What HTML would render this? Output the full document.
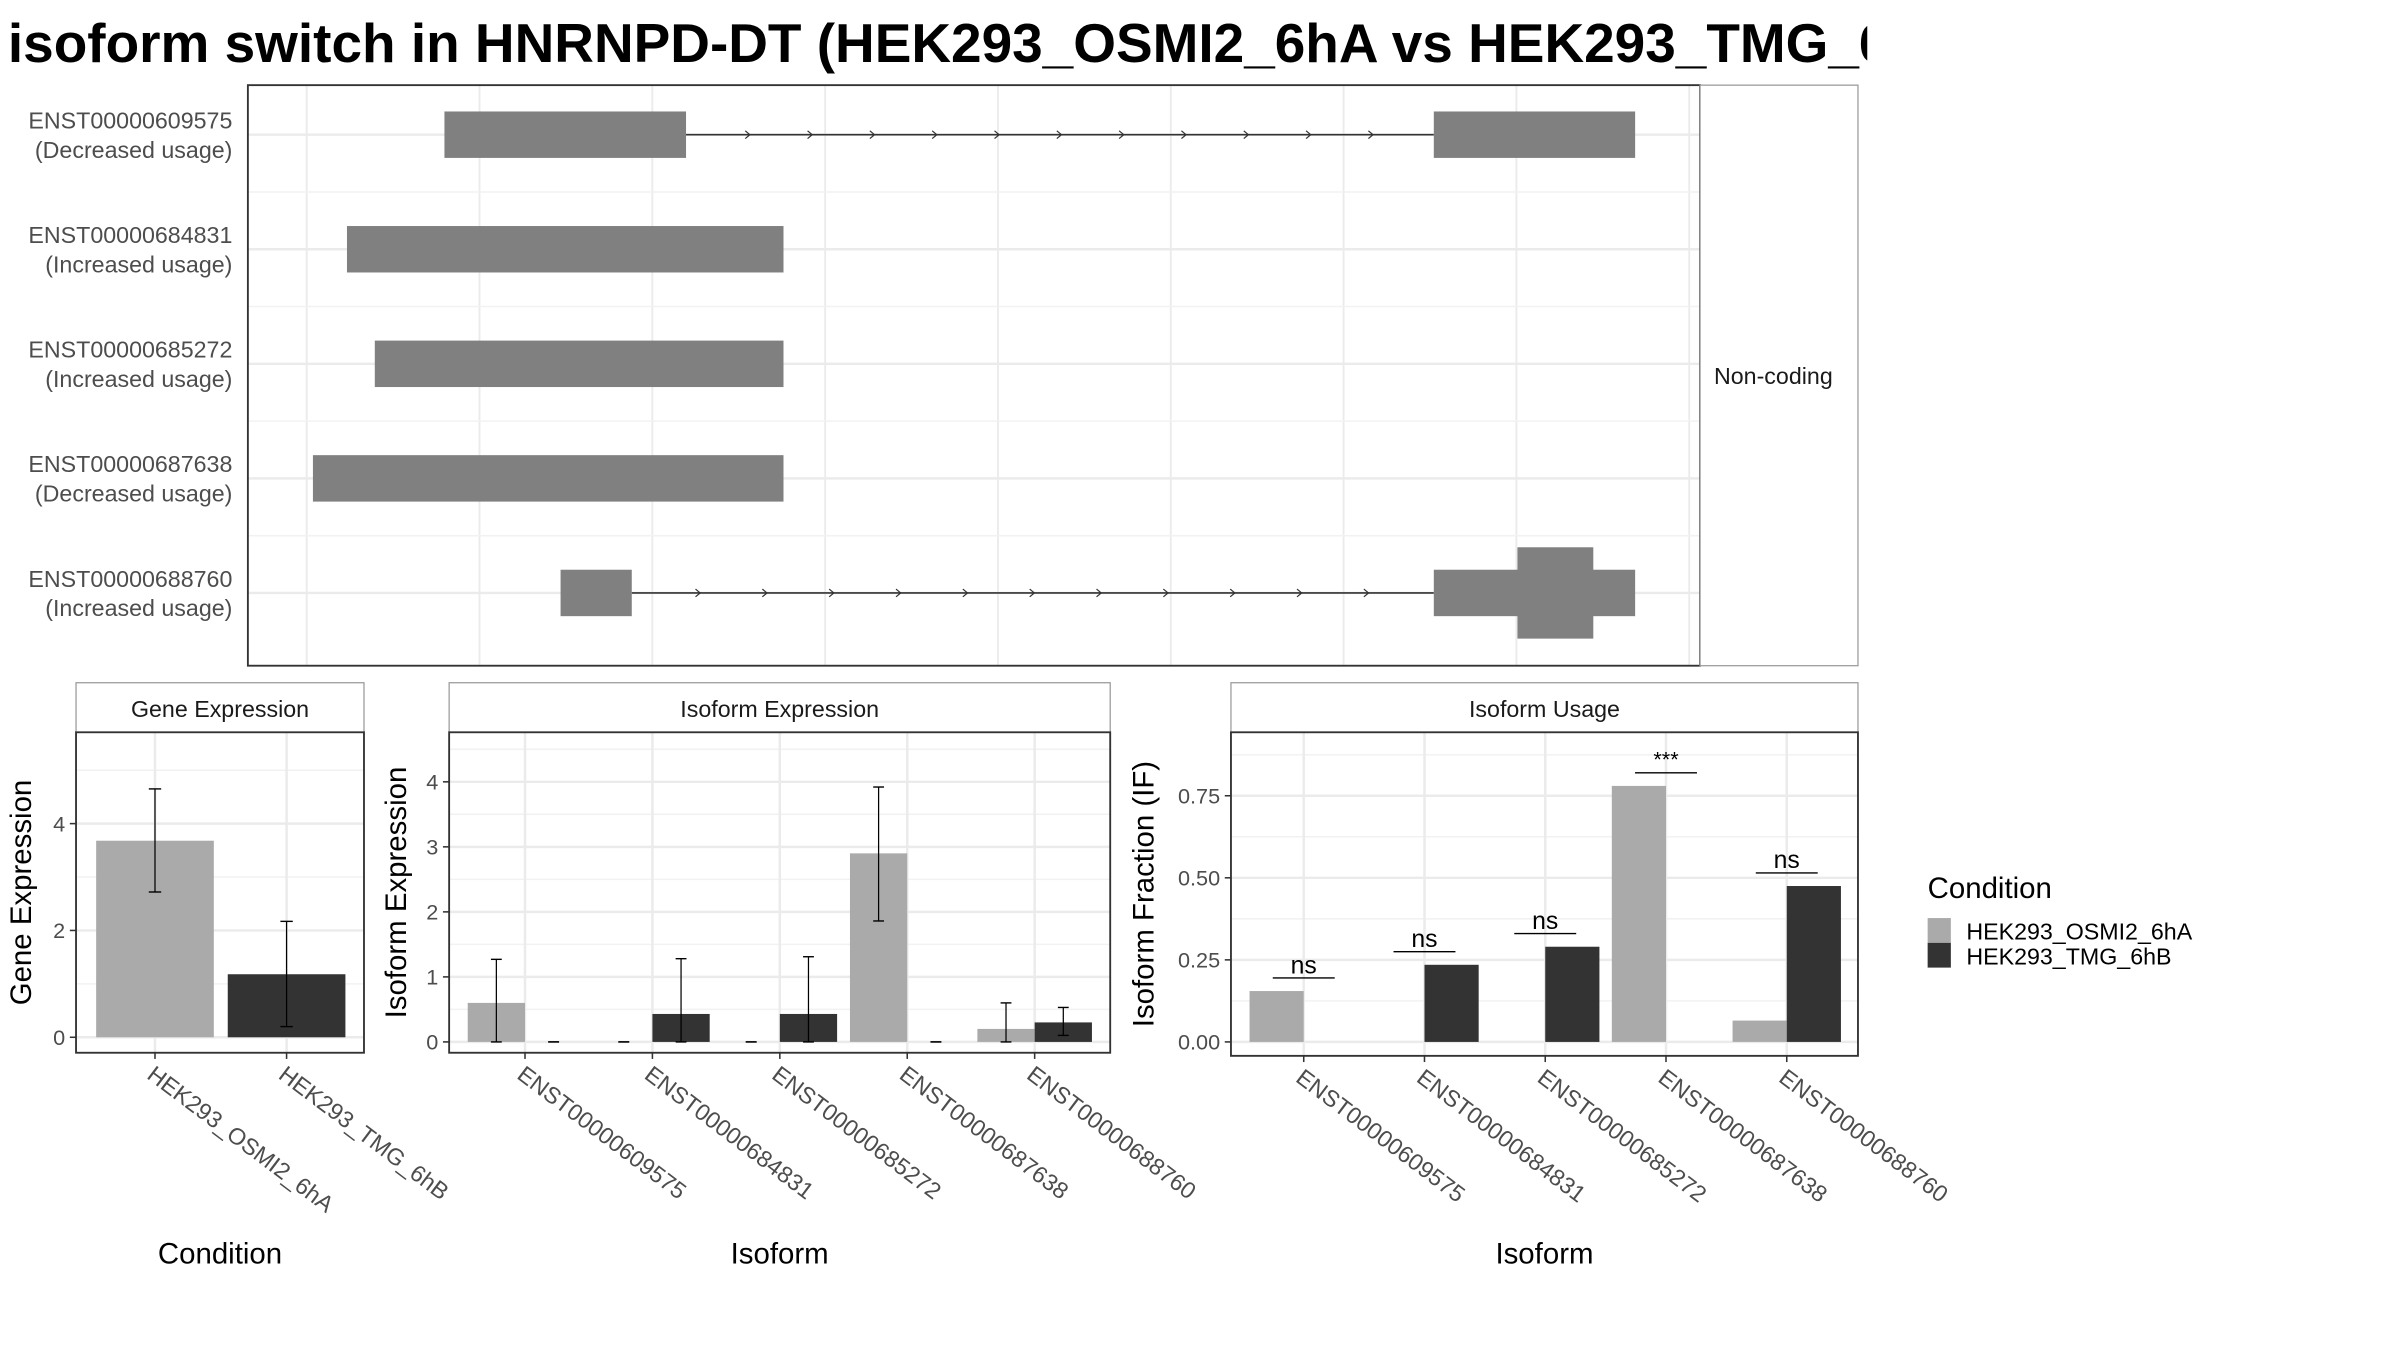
<!DOCTYPE html>
<html><head><meta charset="utf-8"><style>
html,body{margin:0;padding:0;background:#fff;}
svg{display:block;font-family:"Liberation Sans",Arial,sans-serif;}
</style></head><body>
<svg id="chart" width="2400" height="1350" viewBox="0 0 1550 872" xmlns="http://www.w3.org/2000/svg">
<defs><clipPath id="titleclip"><rect x="0" y="0" width="1206" height="60"/></clipPath></defs>
<rect x="0" y="0" width="1550" height="872" fill="#fff"/>
<text x="5" y="40" font-size="35.5" font-weight="bold" fill="#000" clip-path="url(#titleclip)">isoform switch in HNRNPD-DT (HEK293_OSMI2_6hA vs HEK293_TMG_6hB)</text>
<g id="top"></g>
<g id="gene"></g>
<g id="isoexp"></g>
<g id="isouse"></g>
<g id="legend">
  <text x="1245" y="580" font-size="19" fill="#000">Condition</text>
  <rect x="1245" y="593" width="15" height="16" fill="#aaaaaa"/>
  <rect x="1245" y="609" width="15" height="16" fill="#333333"/>
  <text x="1270" y="607" font-size="15">HEK293_OSMI2_6hA</text>
  <text x="1270" y="623" font-size="15">HEK293_TMG_6hB</text>
</g>
</svg>
<script>
// ---------- data ----------
const transcripts = ["ENST00000609575","ENST00000684831","ENST00000685272","ENST00000687638","ENST00000688760"];
const usageLabels = ["(Decreased usage)","(Increased usage)","(Increased usage)","(Decreased usage)","(Increased usage)"];
// exons in genomic units, [start,end,tall]
const exons0 = [[25.97,39.95,0],[83.22,94.87,0]];
const exons1 = [[20.33,45.59,0]];
const exons2 = [[21.94,45.59,0]];
const exons3 = [[18.36,45.59,0]];
const exons4 = [[32.69,36.81,0],[83.22,94.87,0],[88.06,92.45,1]];
const exonSets = [exons0,exons1,exons2,exons3,exons4];
const genomeTicks = [18,28,38,48,58,68,78,88,98];

const conditions = ["HEK293_OSMI2_6hA","HEK293_TMG_6hB"];
const geneValues = [3.68,1.18];
const geneErrLo = [2.72,0.2];
const geneErrHi = [4.65,2.17];
const geneTicks = [0,2,4];

const isoExpOsmi = [0.6,0,0,2.9,0.2];
const isoExpTmg = [0,0.43,0.43,0,0.3];
const isoExpOsmiLo = [0,0,0,1.86,0];
const isoExpOsmiHi = [1.27,0,0,3.92,0.6];
const isoExpTmgLo = [0,0,0,0,0.1];
const isoExpTmgHi = [0,1.28,1.31,0,0.53];
const isoExpTicks = [0,1,2,3,4];

const ifOsmi = [0.155,0,0,0.78,0.065];
const ifTmg = [0,0.235,0.29,0,0.475];
const sigY = [0.195,0.275,0.33,0.82,0.515];
const sigLabels = ["ns","ns","ns","***","ns"];
const ifTicks = [0,0.25,0.5,0.75];
const ifTickLabels = ["0.00","0.25","0.50","0.75"];

const C1="#aaaaaa", C2="#333333";
const NS="http://www.w3.org/2000/svg";
function mk(parent,tag,attrs,name,inter){const e=document.createElementNS(NS,tag);for(const k in attrs)e.setAttribute(k,attrs[k]);


parent.appendChild(e);return e;}

// ---------- top transcript panel ----------
(function(){
const g=document.getElementById('top');
const X0=160,X1=1098,Y0=55,Y1=430;
const gx=v=>198+(v-18)*(1091-198)/80;
const rowY=i=>87+i*74;
mk(g,'rect',{x:X0,y:Y0,width:X1-X0,height:Y1-Y0,fill:'#fff'},'transcript-panel-bg',false);
genomeTicks.forEach(t=>mk(g,'line',{x1:gx(t),x2:gx(t),y1:Y0,y2:Y1,stroke:'#ebebeb','stroke-width':1.2},'genome-gridline',false));
for(let i=0;i<4;i++)mk(g,'line',{x1:X0,x2:X1,y1:rowY(i)+37,y2:rowY(i)+37,stroke:'#f2f2f2','stroke-width':1},'minor-gridline',false);
transcripts.forEach((t,i)=>{
  const y=rowY(i);
  mk(g,'line',{x1:X0,x2:X1,y1:y,y2:y,stroke:'#ebebeb','stroke-width':1.6},'row-gridline',false);
  const ex=exonSets[i];
  if(ex.length>1){
    const a=gx(ex[0][1]),b=gx(ex[1][0]);
    mk(g,'line',{x1:a,x2:b,y1:y,y2:y,stroke:'#333','stroke-width':1},'intron-line',false);
    const n=12;for(let k=1;k<n;k++){const ax=a+(b-a)*k/n;
      mk(g,'path',{d:`M${ax-2},${y-2.5} L${ax+1},${y} L${ax-2},${y+2.5}`,fill:'none',stroke:'#333','stroke-width':0.8},'intron-arrow',false);}
  }
  ex.forEach(e=>{const h=e[2]?59:30;
    mk(g,'rect',{x:gx(e[0]),y:y-h/2,width:gx(e[1])-gx(e[0]),height:h,fill:'#808080'},'exon-'+t,false);});
  const tx=mk(g,'text',{x:150,y:y-4,'font-size':15,fill:'#4d4d4d','text-anchor':'end'},'transcript-label',false);tx.textContent=t;
  const ux=mk(g,'text',{x:150,y:y+15,'font-size':15,fill:'#4d4d4d','text-anchor':'end'},'usage-label',false);ux.textContent=usageLabels[i];
});
mk(g,'rect',{x:X0,y:Y0,width:X1-X0,height:Y1-Y0,fill:'none',stroke:'#333','stroke-width':1.2},'transcript-panel-border',false);
mk(g,'rect',{x:X1,y:Y0,width:1200-X1,height:Y1-Y0,fill:'#fff',stroke:'#999','stroke-width':0.8},'facet-strip-right',false);
const s=mk(g,'text',{x:1107,y:248,'font-size':15,fill:'#1a1a1a'},'facet-label-noncoding',false);s.textContent='Non-coding';
})();

// ---------- generic bar panel ----------
function panel(gid,o){
const g=document.getElementById(gid);
const {X0,X1,Y0,Y1,title}=o;
mk(g,'rect',{x:X0,y:441,width:X1-X0,height:Y0-441,fill:'#fff',stroke:'#999','stroke-width':0.8},'strip-'+gid,false);
const st=mk(g,'text',{x:(X0+X1)/2,y:463,'font-size':15,'text-anchor':'middle',fill:'#1a1a1a'},'strip-title-'+gid,false);st.textContent=title;
o.ticks.forEach((t,i)=>{const y=o.sy(t);
  mk(g,'line',{x1:X0,x2:X1,y1:y,y2:y,stroke:'#ebebeb','stroke-width':1.6},'y-gridline',false);
  const ym=o.sy(t+o.step/2); if(ym>Y0) mk(g,'line',{x1:X0,x2:X1,y1:ym,y2:ym,stroke:'#f2f2f2','stroke-width':1},'y-minor-gridline',false);
  mk(g,'line',{x1:X0-4,x2:X0,y1:y,y2:y,stroke:'#333','stroke-width':1},'y-tick',false);
  const tl=mk(g,'text',{x:X0-7,y:y+5,'font-size':14,fill:'#4d4d4d','text-anchor':'end'},'y-tick-label',false);tl.textContent=o.tickLabels?o.tickLabels[i]:String(t);
});
o.cats.forEach((c,i)=>{const x=o.cx(i);
  mk(g,'line',{x1:x,x2:x,y1:Y0,y2:Y1,stroke:'#ebebeb','stroke-width':1.6},'x-gridline',false);
  mk(g,'line',{x1:x,x2:x,y1:Y1,y2:Y1+4,stroke:'#333','stroke-width':1},'x-tick',false);
  const tl=mk(g,'text',{x:x-6,y:Y1+16,'font-size':15,fill:'#4d4d4d',transform:`rotate(37 ${x-6} ${Y1+16})`},'x-tick-label',false);tl.textContent=c;
});
o.draw(g);
mk(g,'rect',{x:X0,y:Y0,width:X1-X0,height:Y1-Y0,fill:'none',stroke:'#333','stroke-width':1.2},'panel-border-'+gid,false);
const yt=mk(g,'text',{x:o.ytx,y:(Y0+Y1)/2,'font-size':19,'text-anchor':'middle',transform:`rotate(-90 ${o.ytx} ${(Y0+Y1)/2})`},'y-axis-title',false);yt.textContent=o.ytitle;
const xt=mk(g,'text',{x:(X0+X1)/2,y:816,'font-size':19,'text-anchor':'middle'},'x-axis-title',false);xt.textContent=o.xtitle;
}
function errbar(g,x,lo,hi,sy,w){
  mk(g,'line',{x1:x,x2:x,y1:sy(lo),y2:sy(hi),stroke:'#000','stroke-width':0.8},'error-bar',false);
  mk(g,'line',{x1:x-w,x2:x+w,y1:sy(lo),y2:sy(lo),stroke:'#000','stroke-width':0.9},'error-cap',false);
  mk(g,'line',{x1:x-w,x2:x+w,y1:sy(hi),y2:sy(hi),stroke:'#000','stroke-width':0.9},'error-cap',false);
}

panel('gene',{X0:49,X1:235,Y0:473,Y1:680,title:'Gene Expression',ticks:geneTicks,step:2,
 sy:v=>670-v*34.5,cats:conditions,cx:i=>100+i*85,ytx:20,ytitle:'Gene Expression',xtitle:'Condition',
 draw(g){const sy=this.sy;geneValues.forEach((v,i)=>{const x=this.cx(i);
  mk(g,'rect',{x:x-38,y:sy(v),width:76,height:sy(0)-sy(v),fill:i?C2:C1},'bar-'+conditions[i],false);
  errbar(g,x,geneErrLo[i],geneErrHi[i],sy,4);});}});

panel('isoexp',{X0:290,X1:717,Y0:473,Y1:680,title:'Isoform Expression',ticks:isoExpTicks,step:1,
 sy:v=>673-v*42,cats:transcripts,cx:i=>339+i*82.3,ytx:262,ytitle:'Isoform Expression',xtitle:'Isoform',
 draw(g){const sy=this.sy;transcripts.forEach((t,i)=>{const x=this.cx(i);
  const a=isoExpOsmi[i],b=isoExpTmg[i];
  mk(g,'rect',{x:x-37,y:sy(a),width:37,height:sy(0)-sy(a),fill:C1},'bar-osmi2-'+t,false);
  mk(g,'rect',{x:x,y:sy(b),width:37,height:sy(0)-sy(b),fill:C2},'bar-tmg-'+t,false);
  errbar(g,x-18.5,isoExpOsmiLo[i],isoExpOsmiHi[i],sy,3.5);
  errbar(g,x+18.5,isoExpTmgLo[i],isoExpTmgHi[i],sy,3.5);});}});

panel('isouse',{X0:795,X1:1200,Y0:473,Y1:682,title:'Isoform Usage',ticks:ifTicks,tickLabels:ifTickLabels,step:0.25,
 sy:v=>673-v*212,cats:transcripts,cx:i=>842+i*78,ytx:745,ytitle:'Isoform Fraction (IF)',xtitle:'Isoform',
 draw(g){const sy=this.sy;transcripts.forEach((t,i)=>{const x=this.cx(i);
  const a=ifOsmi[i],b=ifTmg[i];
  mk(g,'rect',{x:x-35,y:sy(a),width:35,height:sy(0)-sy(a),fill:C1},'bar-osmi2-'+t,false);
  mk(g,'rect',{x:x,y:sy(b),width:35,height:sy(0)-sy(b),fill:C2},'bar-tmg-'+t,false);
  const ly=sy(sigY[i]);
  mk(g,'line',{x1:x-20,x2:x+20,y1:ly,y2:ly,stroke:'#000','stroke-width':0.9},'significance-line',false);
  const s=mk(g,'text',{x:x,y:ly-(sigLabels[i]==='***'?4:3),'font-size':sigLabels[i]==='***'?14:16,'text-anchor':'middle'},'significance-label',false);s.textContent=sigLabels[i];});}});
</script>
</body></html>
